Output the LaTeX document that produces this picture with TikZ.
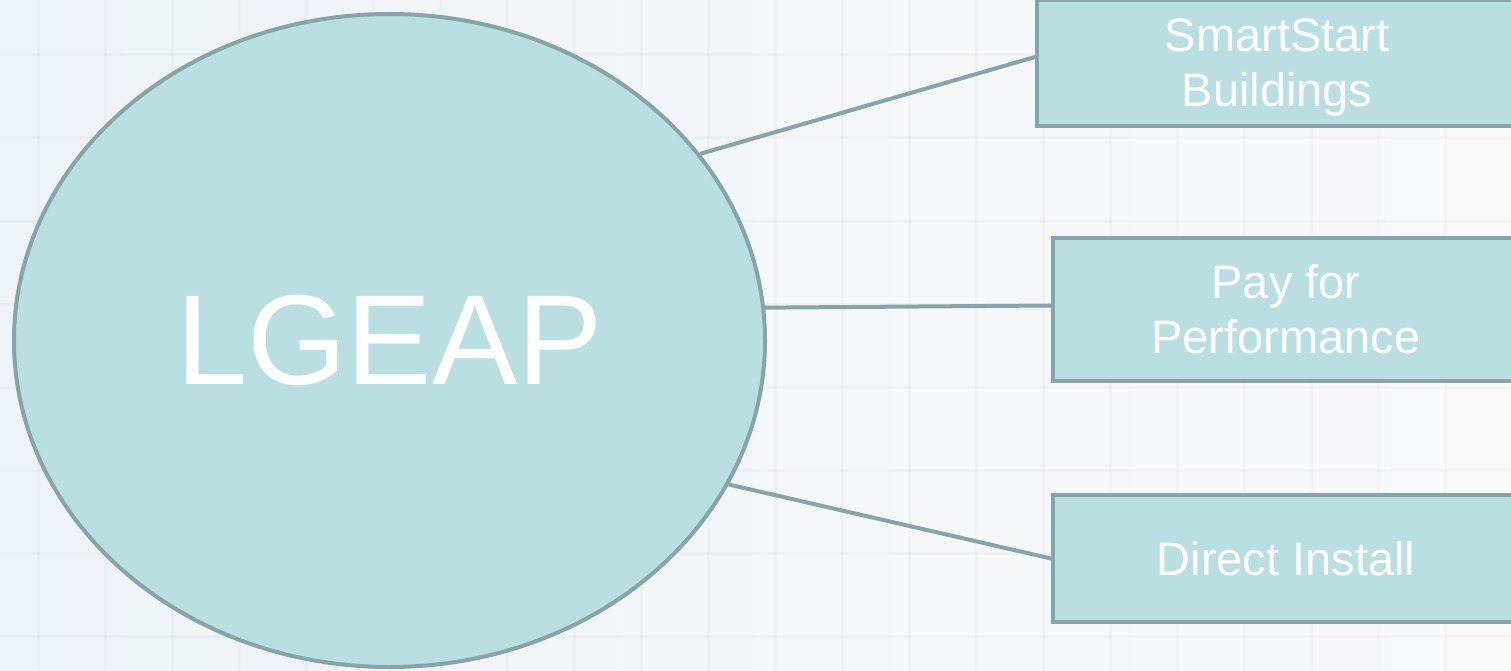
\documentclass[tikz,border=0pt]{standalone}
\usepackage{fontspec}
\setmainfont{Liberation Sans}
\usetikzlibrary{shapes.geometric}
\definecolor{bubble}{HTML}{BADFE2}
\definecolor{rim}{HTML}{87A5A8}
\definecolor{paper}{HTML}{F9F9FA}
\definecolor{paperblue}{HTML}{EEF3F7}

\begin{document}
\begin{tikzpicture}[x=1pt,y=-1pt,
		prog/.style={rectangle,draw=rim,fill=bubble,line width=4pt,text=white,align=center,font=\fontsize{47}{55}\selectfont},
		link/.style={draw=rim,line width=4pt}]
		\useasboundingbox (0,0) rectangle (1511,671);
		\shade[left color=paperblue,right color=paper] (0,0) rectangle (1511,671);
		\foreach \gx in {38,105,...,1511}
		\draw[black,opacity=0.018,line width=3pt] (\gx,0) -- (\gx,671);
		\foreach \gy in {55,138,...,671}
		\draw[black,opacity=0.018,line width=3pt] (0,\gy) -- (1511,\gy);
		\node (hub) [ellipse,draw=rim,fill=bubble,line width=4pt,inner sep=0pt,minimum width=751pt,minimum height=653pt,text=white,font=\fontsize{128}{128}\selectfont] at (389.5,340.5) {LGEAP};
		\node (ssb) [prog,text depth=0pt,minimum width=480pt,minimum height=126pt] at (1277,63) {SmartStart\\Buildings};
		\node (pfp) [prog,minimum width=466pt,minimum height=143pt] at (1286,309.5) {Pay for\\Performance};
		\node (dir) [prog,minimum width=466pt,minimum height=127pt] at (1286,558.5) {Direct Install};
		\path[link]
		(hub.31) edge ([yshift=6pt]ssb.west)
		(hub.5) edge ([yshift=4pt]pfp.west)
		(hub.-23) edge (dir.west);
	\end{tikzpicture}
\end{document}
